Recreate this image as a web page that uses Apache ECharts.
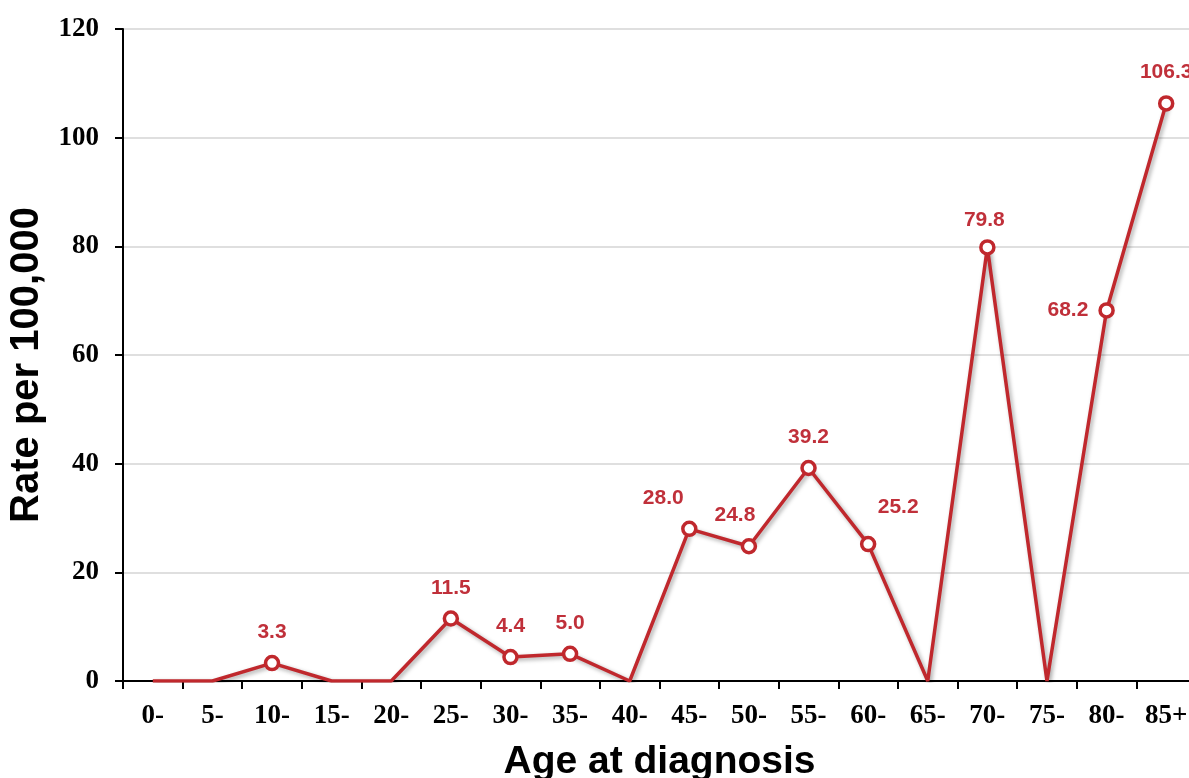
<!DOCTYPE html>
<html>
<head>
<meta charset="utf-8">
<style>
html,body{margin:0;padding:0;background:#fff;}
#chart{width:1189px;height:778px;}
</style>
<script src="https://cdn.jsdelivr.net/npm/echarts@6/dist/echarts.min.js"></script>
</head>
<body>
<div id="chart"></div>
<script>
// ---- data ----
const categories = ['0-','5-','10-','15-','20-','25-','30-','35-','40-','45-','50-','55-','60-','65-','70-','75-','80-','85+'];
const rates = [0, 0, 3.3, 0, 0, 11.5, 4.4, 5.0, 0, 28.0, 24.8, 39.2, 25.2, 0, 79.8, 0, 68.2, 106.3];
const yTicks = [0, 20, 40, 60, 80, 100, 120];
const xAxisTitle = 'Age at diagnosis';
const yAxisTitle = 'Rate per 100,000';

// ---- style ----
const RED = '#C0282D';
const labelTweaks = {
  '45-': { offset: [-26, 0] },
  '50-': { offset: [-14, 0] },
  '60-': { offset: [30, -6] },
  '70-': { offset: [-3, 4] },
  '80-': { position: 'left', distance: 10 }
};

const seriesData = rates.map((v, i) => {
  const item = { value: v };
  if (v === 0) {
    item.symbol = 'none';
    item.label = { show: false };
  } else {
    const t = labelTweaks[categories[i]];
    if (t) item.label = Object.assign({ show: true }, t);
  }
  return item;
});

const chart = echarts.init(document.getElementById('chart'), null, { renderer: 'canvas' });
chart.setOption({
  backgroundColor: '#ffffff',
  animation: false,
  grid: { left: 123, right: -7, top: 29, bottom: 97, containLabel: false, outerBoundsMode: 'none' },
  xAxis: {
    type: 'category',
    data: categories,
    boundaryGap: true,
    name: xAxisTitle,
    nameLocation: 'middle',
    nameGap: 62,
    nameTextStyle: { fontFamily: 'Liberation Sans', fontWeight: 'bold', fontSize: 39, color: '#000' },
    axisLine: { lineStyle: { color: '#000', width: 2 } },
    axisTick: { show: true, alignWithLabel: false, length: 8, lineStyle: { color: '#000', width: 2 } },
    axisLabel: { fontFamily: 'Liberation Serif', fontWeight: 'bold', fontSize: 27, color: '#000', margin: 22, interval: 0 },
    splitLine: { show: false }
  },
  yAxis: {
    type: 'value',
    min: yTicks[0],
    max: yTicks[yTicks.length - 1],
    interval: yTicks[1] - yTicks[0],
    name: yAxisTitle,
    nameLocation: 'middle',
    nameGap: 76,
    nameTextStyle: { fontFamily: 'Liberation Sans', fontWeight: 'bold', fontSize: 40, color: '#000', padding: [0, 20, 0, 0] },
    axisLine: { show: true, lineStyle: { color: '#000', width: 2 } },
    axisTick: { show: true, length: 8, lineStyle: { color: '#000', width: 2 } },
    axisLabel: { fontFamily: 'Liberation Serif', fontWeight: 'bold', fontSize: 27, color: '#000', margin: 24 },
    splitLine: { show: true, lineStyle: { color: '#d4d4d4', width: 1.5 } }
  },
  series: [{
    type: 'line',
    data: seriesData,
    symbol: 'circle',
    symbolSize: 13,
    showSymbol: true,
    lineStyle: { color: RED, width: 3.5, shadowColor: 'rgba(0,0,0,0.35)', shadowBlur: 4, shadowOffsetX: 2, shadowOffsetY: 2 },
    itemStyle: { color: '#ffffff', borderColor: RED, borderWidth: 3.5 },
    label: {
      show: true,
      position: 'top',
      distance: 12,
      color: '#C0303A',
      fontFamily: 'Liberation Sans',
      fontWeight: 'bold',
      fontSize: 21,
      formatter: p => p.value.toFixed(1)
    },
    z: 3
  }]
});
</script>
</body>
</html>
